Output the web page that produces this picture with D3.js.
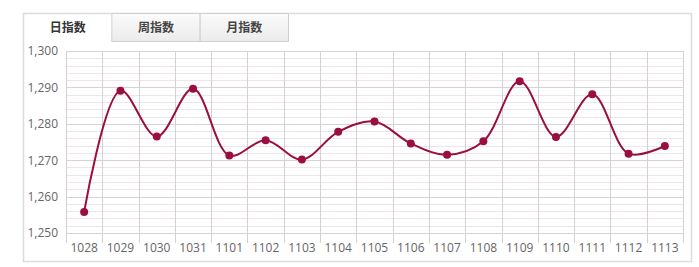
<!DOCTYPE html>
<html>
<head>
<meta charset="utf-8">
<script src="https://cdn.jsdelivr.net/npm/d3@7/dist/d3.min.js"></script>
<style>
  html, body { margin: 0; padding: 0; background: #fff; }
  svg { display: block; }
</style>
</head>
<body>
<svg id="chart" width="699" height="267"></svg>
<script>
// Daily index, one point per trading day (MMDD)
const categories = ["1028","1029","1030","1031","1101","1102","1103","1104","1105","1106","1107","1108","1109","1110","1111","1112","1113"];
const values = [1255.8, 1289.1, 1276.5, 1289.6, 1271.3, 1275.5, 1270.2, 1277.8, 1280.6, 1274.6, 1271.5, 1275.2, 1291.7, 1276.4, 1288.1, 1271.8, 1273.9];
const yTicks = [1250, 1260, 1270, 1280, 1290, 1300];
const tabs = ["日指数", "周指数", "月指数"];

const svg = d3.select("#chart");
const W = 699, H = 267;

// Outer panel
svg.append("rect")
  .attr("x", 23.5).attr("y", 13.5)
  .attr("width", 668).attr("height", 248)
  .attr("fill", "#fff").attr("stroke", "#dcdcdc").attr("stroke-width", 1.5);

// Tab strip
const defs = svg.append("defs");
const grad = defs.append("linearGradient").attr("id", "tabGrad")
  .attr("x1", 0).attr("y1", 0).attr("x2", 0).attr("y2", 1);
grad.append("stop").attr("offset", "0%").attr("stop-color", "#fbfbfb");
grad.append("stop").attr("offset", "100%").attr("stop-color", "#ebebeb");

const tabX = d3.scaleBand().domain(tabs).range([23.5, 288.5]);
const tabG = svg.append("g");
tabs.forEach((t, i) => {
  const x = tabX(t), w = tabX.bandwidth();
  if (i > 0) {
    tabG.append("rect")
      .attr("x", x).attr("y", 13.5).attr("width", w).attr("height", 28)
      .attr("fill", "url(#tabGrad)").attr("stroke", "#cfcfcf").attr("stroke-width", 1);
  }
  tabG.append("text")
    .attr("x", x + w / 2).attr("y", 32)
    .attr("text-anchor", "middle")
    .attr("font-family", "'Noto Sans CJK SC', sans-serif")
    .attr("font-size", 12).attr("font-weight", "bold")
    .attr("fill", i === 0 ? "#333" : "#444")
    .text(t);
});

// Plot area
const m = { left: 66, right: 683, top: 51, bottom: 233 };
const x = d3.scaleBand().domain(categories).range([m.left, m.right]);
const y = d3.scaleLinear().domain([1250, 1300]).range([m.bottom, m.top]);

// Minor horizontal grid (every 2)
const minor = d3.range(1250, 1301, 2).filter(v => v % 10 !== 0);
svg.append("g").selectAll("line").data(minor).join("line")
  .attr("x1", m.left).attr("x2", m.right)
  .attr("y1", d => Math.round(y(d)) + 0.5).attr("y2", d => Math.round(y(d)) + 0.5)
  .attr("stroke", "#ece6ec").attr("stroke-width", 1);

// Major horizontal grid
svg.append("g").selectAll("line").data(yTicks).join("line")
  .attr("x1", m.left).attr("x2", m.right)
  .attr("y1", d => Math.round(y(d)) + 0.5).attr("y2", d => Math.round(y(d)) + 0.5)
  .attr("stroke", "#d6d2d6").attr("stroke-width", 1);

// Vertical grid at category boundaries, with tick marks below the axis
const bounds = categories.map(c => x(c)).concat([m.right]);
svg.append("g").selectAll("line").data(bounds).join("line")
  .attr("x1", d => Math.round(d) + 0.5).attr("x2", d => Math.round(d) + 0.5)
  .attr("y1", m.top).attr("y2", m.bottom + 10)
  .attr("stroke", "#d4d0d4").attr("stroke-width", 1);

// Y axis labels
const fmt = d3.format(",");
const yAxis = d3.axisLeft(y).tickValues(yTicks).tickFormat(fmt).tickSize(0).tickPadding(8);
const yg = svg.append("g").attr("transform", `translate(${m.left},0)`).call(yAxis);
yg.select(".domain").remove();
yg.selectAll("text")
  .attr("font-family", "'Open Sans', sans-serif").attr("font-size", 12).attr("fill", "#666");

// X axis labels
const xAxis = d3.axisBottom(x).tickSize(0).tickPadding(10);
const xg = svg.append("g").attr("transform", `translate(0,${m.bottom})`).call(xAxis);
xg.select(".domain").remove();
xg.selectAll("text")
  .attr("font-family", "'Open Sans', sans-serif").attr("font-size", 12).attr("fill", "#666");

// Series line
const cx = c => x(c) + x.bandwidth() / 2;
const line = d3.line()
  .x((d, i) => cx(categories[i]))
  .y(d => y(d))
  .curve(d3.curveCatmullRom.alpha(0.5));

svg.append("path")
  .datum(values)
  .attr("d", line)
  .attr("fill", "none")
  .attr("stroke", "#9a0f3f")
  .attr("stroke-width", 2);

svg.append("g").selectAll("circle").data(values).join("circle")
  .attr("cx", (d, i) => cx(categories[i]))
  .attr("cy", d => y(d))
  .attr("r", 4)
  .attr("fill", "#9a0f3f");
</script>
</body>
</html>
